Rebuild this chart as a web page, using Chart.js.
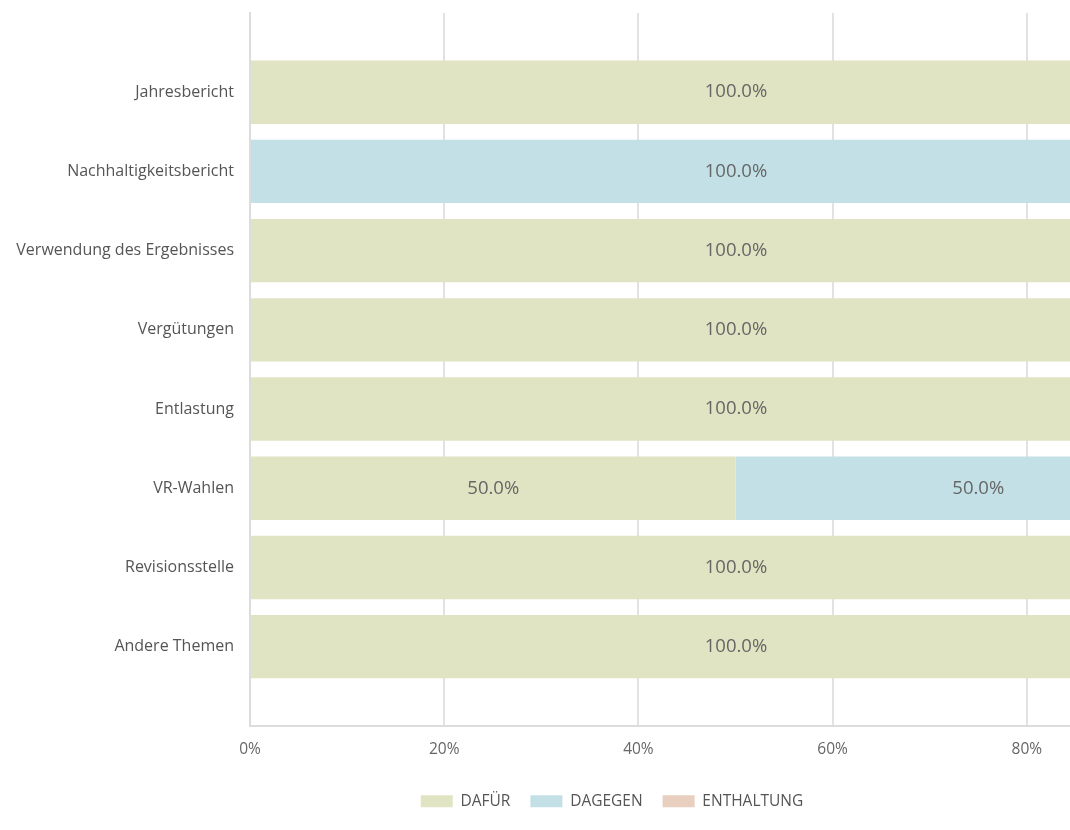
<!DOCTYPE html>
<html lang="de">
<head>
  <meta charset="UTF-8">
  <title>Abstimmungsergebnisse</title>
  <script src="https://cdn.jsdelivr.net/npm/chart.js"></script>
  <style>
    body {
      margin: 0;
      padding: 0;
      overflow: hidden;
      background-color: #ffffff;
    }

    /* the chart is wider than the window, so the right side gets cut off */
    .chart-box {
      position: relative;
      width: 1224px;
      height: 830px;
    }
  </style>
</head>
<body>
  <div class="chart-box">
    <canvas id="votesChart"></canvas>
  </div>

  <script>
    const categories = [
      'Jahresbericht',
      'Nachhaltigkeitsbericht',
      'Verwendung des Ergebnisses',
      'Vergütungen',
      'Entlastung',
      'VR-Wahlen',
      'Revisionsstelle',
      'Andere Themen'
    ];
    const dafuer     = [100, 0, 100, 100, 100, 50, 100, 100];
    const dagegen    = [0, 100, 0, 0, 0, 50, 0, 0];
    const enthaltung = [0, 0, 0, 0, 0, 0, 0, 0];
    const xTicks     = [0, 20, 40, 60, 80, 100];

    const FONT = '"Open Sans", "Noto Sans", sans-serif';

    // empty slot above and below the categories, like the original plot area
    const pad = arr => [null, ...arr, null];

    const segmentLabels = {
      id: 'segmentLabels',
      afterDatasetsDraw(chart) {
        const ctx = chart.ctx;
        ctx.save();
        ctx.font = '18.5px ' + FONT;
        ctx.fillStyle = '#666666';
        ctx.textAlign = 'center';
        ctx.textBaseline = 'middle';
        chart.data.datasets.forEach((ds, di) => {
          const meta = chart.getDatasetMeta(di);
          if (meta.hidden) return;
          meta.data.forEach((bar, i) => {
            const v = ds.data[i];
            if (!v) return;
            ctx.fillText(v.toFixed(1) + '%', (bar.x + bar.base) / 2, bar.y);
          });
        });
        ctx.restore();
      }
    };

    new Chart(document.getElementById('votesChart'), {
      type: 'bar',
      data: {
        labels: ['', ...categories, ''],
        datasets: [
          { label: 'DAFÜR', data: pad(dafuer), backgroundColor: '#e1e4c3' },
          { label: 'DAGEGEN', data: pad(dagegen), backgroundColor: '#c3e0e6' },
          { label: 'ENTHALTUNG', data: pad(enthaltung), backgroundColor: '#e8cfc0' }
        ]
      },
      options: {
        indexAxis: 'y',
        responsive: true,
        maintainAspectRatio: false,
        animation: false,
        layout: { padding: { top: 13, bottom: 11 } },
        datasets: {
          bar: { categoryPercentage: 0.8, barPercentage: 1.0, borderWidth: 0 }
        },
        scales: {
          x: {
            type: 'linear',
            stacked: true,
            min: 0,
            max: 100,
            afterBuildTicks: s => { s.ticks = xTicks.map(v => ({ value: v })); },
            afterFit: s => { s.paddingRight = 3; s.height += 1; },
            ticks: {
              callback: v => v + '%',
              font: { family: FONT, size: 15.5 },
              color: '#666666',
              padding: 14
            },
            grid: { color: '#e2e2e2', lineWidth: 2, drawTicks: false },
            border: { display: true, color: '#dcdcdc', width: 2 }
          },
          y: {
            type: 'category',
            stacked: true,
            offset: false,
            afterFit: s => { s.width = 250; s.paddingTop = 0; s.paddingBottom = 0; },
            ticks: {
              font: { family: FONT, size: 16 },
              color: '#555555',
              padding: 16
            },
            grid: { display: false, drawTicks: false },
            border: { display: true, color: '#dcdcdc', width: 2 }
          }
        },
        plugins: {
          legend: {
            position: 'bottom',
            labels: {
              boxWidth: 32,
              boxHeight: 12,
              padding: 20,
              color: '#555555',
              font: { family: FONT, size: 15.5 }
            }
          },
          tooltip: { enabled: false }
        }
      },
      plugins: [segmentLabels]
    });
  </script>
</body>
</html>
